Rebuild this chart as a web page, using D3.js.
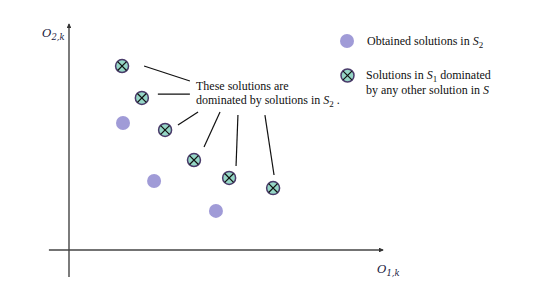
<!DOCTYPE html>
<html>
<head>
<meta charset="utf-8">
<script src="https://cdn.jsdelivr.net/npm/d3@7"></script>
<style>
  body { margin: 0; background: #fff; }
  svg { display: block; }
</style>
</head>
<body>
<div id="chart"></div>
<script>
// data (arbitrary objective units, origin at axis crossing)
const s2Points = [[17.2, 56.2], [27.1, 30.5], [46.8, 17.3]];
const dominatedPoints = [[16.9, 81.4], [23.2, 67.3], [30.6, 53.1], [39.8, 39.8], [51.0, 31.9], [65.0, 27.4]];
// leader lines from dominated points to the note
const leaderStart = [[23.9, 81.4], [28.3, 69.0], [34.7, 55.3], [43.0, 45.6], [53.2, 37.2], [65.3, 33.2]];
const leaderEnd = [[38.5, 74.8], [38.5, 69.0], [41.1, 61.1], [48.1, 61.1], [53.8, 59.7], [62.4, 59.7]];

const svgWidth = 544;
const svgHeight = 297;

const xScale = d3.scaleLinear([0, 100], [69, 383]);
const yScale = d3.scaleLinear([0, 100], [250, 24]);

const svg = d3.select("#chart")
  .append("svg")
  .attr("width", svgWidth)
  .attr("height", svgHeight)
  .style("font-family", "'Liberation Serif', serif");

const defs = svg.append("defs");
defs.append("marker")
  .attr("id", "arrow")
  .attr("viewBox", "0 0 6 6")
  .attr("refX", 5).attr("refY", 3)
  .attr("markerWidth", 3.5).attr("markerHeight", 3.5)
  .attr("orient", "auto")
  .append("path")
  .attr("d", "M0,0L6,3L0,6Z")
  .attr("fill", "#333");

const axisColor = "#444";

// axes
svg.append("line")
  .attr("x1", xScale(-6.4)).attr("x2", xScale(100))
  .attr("y1", yScale(0)).attr("y2", yScale(0))
  .attr("stroke", axisColor).attr("stroke-width", 1.4)
  .attr("marker-end", "url(#arrow)");

svg.append("line")
  .attr("x1", xScale(0)).attr("x2", xScale(0))
  .attr("y1", yScale(-12)).attr("y2", yScale(100))
  .attr("stroke", axisColor).attr("stroke-width", 1.4)
  .attr("marker-end", "url(#arrow)");

// axis labels
function axisLabel(x, y, sub) {
  const t = svg.append("text")
    .attr("x", x).attr("y", y)
    .style("font-family", "'DejaVu Serif', serif")
    .style("font-style", "italic")
    .style("font-size", "11.5px")
    .attr("fill", "#1a1a40");
  t.append("tspan").text("O");
  t.append("tspan").attr("dy", 3).style("font-size", "8.5px").text(sub);
}
axisLabel(42, 37, "2,k");
axisLabel(377, 273, "1,k");

// leader lines
svg.selectAll(".leader")
  .data(leaderStart)
  .enter()
  .append("line")
  .attr("class", "leader")
  .attr("x1", d => xScale(d[0]))
  .attr("y1", d => yScale(d[1]))
  .attr("x2", (d, i) => xScale(leaderEnd[i][0]))
  .attr("y2", (d, i) => yScale(leaderEnd[i][1]))
  .attr("stroke", "#111")
  .attr("stroke-width", 1.2);

const s2Fill = "#a09bd7";
const domFill = "#95d6c6";
const domStroke = "#4a3b6a";

function drawCross(g, r) {
  g.append("circle").attr("r", r)
    .attr("fill", domFill).attr("stroke", domStroke).attr("stroke-width", 1.5);
  const k = r * 0.68;
  g.append("line").attr("x1", -k).attr("y1", -k).attr("x2", k).attr("y2", k)
    .attr("stroke", "#111").attr("stroke-width", 1.2);
  g.append("line").attr("x1", -k).attr("y1", k).attr("x2", k).attr("y2", -k)
    .attr("stroke", "#111").attr("stroke-width", 1.2);
}

// S2 points
svg.selectAll(".s2")
  .data(s2Points)
  .enter()
  .append("circle")
  .attr("class", "s2")
  .attr("cx", d => xScale(d[0]))
  .attr("cy", d => yScale(d[1]))
  .attr("r", 7)
  .attr("fill", s2Fill);

// dominated points
svg.selectAll(".dom")
  .data(dominatedPoints)
  .enter()
  .append("g")
  .attr("class", "dom")
  .attr("transform", d => `translate(${xScale(d[0])},${yScale(d[1])})`)
  .each(function () { drawCross(d3.select(this), 6.5); });

// text with italic S and subscripts
function subText(sel, parts) {
  parts.forEach(p => {
    const ts = sel.append("tspan").text(p.t);
    if (p.i) ts.style("font-style", "italic");
    if (p.sub) ts.attr("dy", 3).style("font-size", "9px");
    if (p.up) ts.attr("dy", -3);
  });
}

const note = svg.append("text").style("font-size", "12px").attr("fill", "#111");
note.append("tspan").attr("x", 196).attr("y", 90).text("These solutions are");
note.append("tspan").attr("x", 196).attr("y", 104).text("dominated by solutions in ");
subText(note, [{ t: "S", i: true }, { t: "2", sub: true }, { t: " .", up: true }]);

// legend
const legend = svg.append("g");
legend.append("circle").attr("cx", 347).attr("cy", 41).attr("r", 7).attr("fill", s2Fill);
const lg1 = legend.append("text").attr("x", 367).attr("y", 45).style("font-size", "12px").attr("fill", "#111");
subText(lg1, [{ t: "Obtained solutions in " }, { t: "S", i: true }, { t: "2", sub: true }]);

drawCross(legend.append("g").attr("transform", "translate(347.5,75.5)"), 6.5);
const lg2 = legend.append("text").style("font-size", "12px").attr("fill", "#111");
lg2.append("tspan").attr("x", 366).attr("y", 79).text("Solutions in ");
subText(lg2, [{ t: "S", i: true }, { t: "1", sub: true }, { t: " dominated", up: true }]);
lg2.append("tspan").attr("x", 366).attr("y", 94).text("by any other solution in ");
lg2.append("tspan").style("font-style", "italic").text("S");
</script>
</body>
</html>
